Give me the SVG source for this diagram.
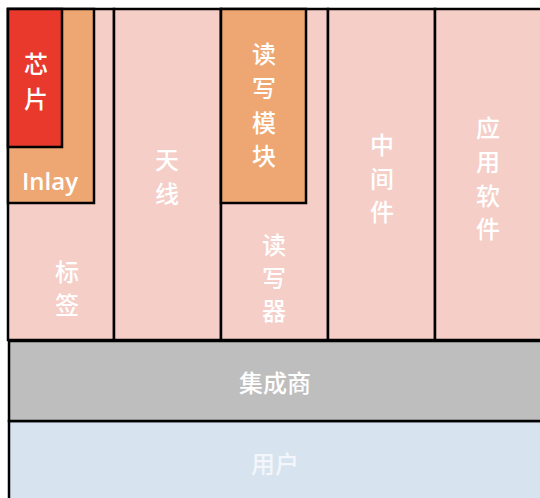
<svg xmlns="http://www.w3.org/2000/svg" width="540" height="498" viewBox="0 0 540 498">
<style>
.box{stroke:#000;stroke-width:2.5}
.pink{fill:#f5cec8}
.orange{fill:#eea772}
.red{fill:#e8392c}
.gray{fill:#bebebe}
.blue{fill:#d7e3ef}
text{font-family:"Noto Sans CJK SC","Noto Sans",sans-serif;font-size:24px;font-weight:500;fill:#fff;text-anchor:middle;dominant-baseline:central}
.latin{font-family:"Open Sans","Noto Sans",sans-serif;font-weight:600;font-size:24px}
</style>
<rect width="540" height="498" fill="#fff"/>
<g id="user"><rect class="box blue" x="9" y="421" width="533" height="80"/><text x="275" y="462" style="fill:#f3f6fa">用户</text></g>
<g id="integrator"><rect class="box gray" x="9" y="341" width="533" height="80"/><text x="275" y="381">集成商</text></g>
<g id="tag"><rect class="box pink" x="8" y="9" width="106" height="331"/><text x="67" y="270">标</text><text x="67" y="303">签</text></g>
<g id="inlay"><rect class="box orange" x="8" y="9" width="86" height="194"/><text class="latin" x="50" y="180">Inlay</text></g>
<g id="chip"><rect class="box red" x="8" y="9" width="54" height="138"/><text x="36" y="62">芯</text><text x="36" y="97">片</text></g>
<g id="antenna"><rect class="box pink" x="114" y="9" width="107" height="331"/><text x="167" y="158">天</text><text x="167" y="192">线</text></g>
<g id="reader"><rect class="box pink" x="221" y="9" width="107" height="331"/><text x="274" y="243">读</text><text x="274" y="276">写</text><text x="274" y="309">器</text></g>
<g id="rwmodule"><rect class="box orange" x="221" y="9" width="85" height="194"/><text x="264" y="52">读</text><text x="264" y="86">写</text><text x="264" y="121">模</text><text x="264" y="154">块</text></g>
<g id="middleware"><rect class="box pink" x="328" y="9" width="107" height="331"/><text x="382" y="143">中</text><text x="382" y="177">间</text><text x="382" y="210">件</text></g>
<g id="app"><rect class="box pink" x="435" y="9" width="110" height="331"/><text x="488" y="126">应</text><text x="488" y="160">用</text><text x="488" y="194">软</text><text x="488" y="227">件</text></g>
<g id="connectors"></g>
</svg>
